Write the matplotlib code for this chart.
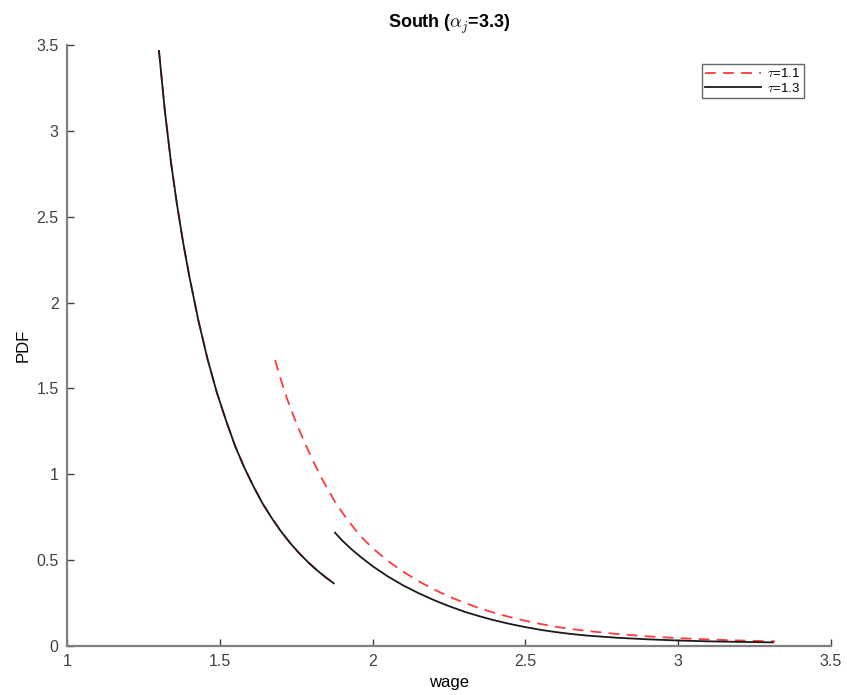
import numpy as np
import matplotlib
matplotlib.use('Agg')
import matplotlib.pyplot as plt

plt.rcParams['font.family'] = ['Liberation Sans', 'DejaVu Sans']
plt.rcParams['mathtext.fontset'] = 'cm'

# --- datos ---
# tau = 1.3, tramo bajo
w_13_a = [1.301, 1.32, 1.34, 1.36, 1.38, 1.40, 1.43, 1.46, 1.49, 1.52, 1.55, 1.58,
          1.61, 1.64, 1.67, 1.70, 1.73, 1.76, 1.79, 1.82, 1.85, 1.873]
pdf_13_a = [3.465, 3.12, 2.82, 2.57, 2.35, 2.155, 1.895, 1.67, 1.478, 1.315, 1.165, 1.04,
            0.93, 0.83, 0.745, 0.668, 0.60, 0.54, 0.486, 0.438, 0.395, 0.365]

# tau = 1.3, tramo alto
w_13_b = [1.877, 1.90, 1.93, 1.96, 2.00, 2.05, 2.10, 2.15, 2.20, 2.25, 2.30, 2.35,
          2.40, 2.45, 2.50, 2.55, 2.60, 2.65, 2.70, 2.80, 2.90, 3.00, 3.10, 3.20, 3.31]
pdf_13_b = [0.66, 0.615, 0.565, 0.52, 0.465, 0.405, 0.353, 0.308, 0.268, 0.232, 0.20, 0.173,
            0.149, 0.128, 0.11, 0.094, 0.081, 0.07, 0.061, 0.048, 0.039, 0.032, 0.027, 0.024, 0.021]

# tau = 1.1
w_11 = [1.681, 1.70, 1.72, 1.75, 1.78, 1.81, 1.84, 1.88, 1.92, 1.96, 2.00, 2.05, 2.10,
        2.15, 2.20, 2.25, 2.30, 2.35, 2.40, 2.45, 2.50, 2.55, 2.60, 2.65, 2.70, 2.80,
        2.90, 3.00, 3.10, 3.20, 3.317]
pdf_11 = [1.665, 1.55, 1.44, 1.30, 1.175, 1.06, 0.955, 0.83, 0.73, 0.64, 0.57, 0.495, 0.433,
          0.378, 0.33, 0.288, 0.252, 0.22, 0.192, 0.168, 0.147, 0.128, 0.112, 0.099, 0.088, 0.07,
          0.056, 0.046, 0.038, 0.032, 0.027]

x_ticks = [1, 1.5, 2, 2.5, 3, 3.5]
y_ticks = [0, 0.5, 1, 1.5, 2, 2.5, 3, 3.5]

fig = plt.figure(figsize=(8.47, 6.95), dpi=100)
ax = fig.add_axes([0.0791, 0.0705, 0.9020, 0.8648])

# el tramo de tau=1.1 que coincide con tau=1.3 queda debajo
ax.plot(w_13_a, pdf_13_a, color='#ff3b3b', linestyle=(0, (6, 4)), linewidth=1.3)
ax.plot(w_11, pdf_11, color='#ff3b3b', linestyle=(0, (6, 4)), linewidth=1.3, label=r'$\tau$=1.1')
ax.plot(w_13_a, pdf_13_a, color='#1a1a1a', linewidth=1.3, label=r'$\tau$=1.3')
ax.plot(w_13_b, pdf_13_b, color='#1a1a1a', linewidth=1.3)

ax.set_xlim(1, 3.5)
ax.set_ylim(0, 3.5)
ax.set_xticks(x_ticks)
ax.set_xticklabels(['1', '1.5', '2', '2.5', '3', '3.5'])
ax.set_yticks(y_ticks)
ax.set_yticklabels(['0', '0.5', '1', '1.5', '2', '2.5', '3', '3.5'])

for lado in ['top', 'right']:
    ax.spines[lado].set_visible(False)
for lado in ['left', 'bottom']:
    ax.spines[lado].set_color('#808080')
    ax.spines[lado].set_linewidth(1.6)

ax.tick_params(direction='in', length=5, width=1, colors='#404040', labelsize=11.5, pad=6)

ax.set_title(r'South ($\alpha_j$=3.3)', fontsize=13, fontweight='bold', pad=12)
ax.set_xlabel('wage', fontsize=12, labelpad=4)
ax.set_ylabel('PDF', fontsize=12, labelpad=4)

leg = ax.legend(loc='upper right', bbox_to_anchor=(0.97, 0.975), fontsize=9.5,
                frameon=True, fancybox=False, handlelength=4.2, handletextpad=0.5,
                borderpad=0.25, labelspacing=0.1, borderaxespad=0.3)
leg.get_frame().set_edgecolor('#404040')
leg.get_frame().set_linewidth(1.0)

fig.savefig('out.png', dpi=100)
